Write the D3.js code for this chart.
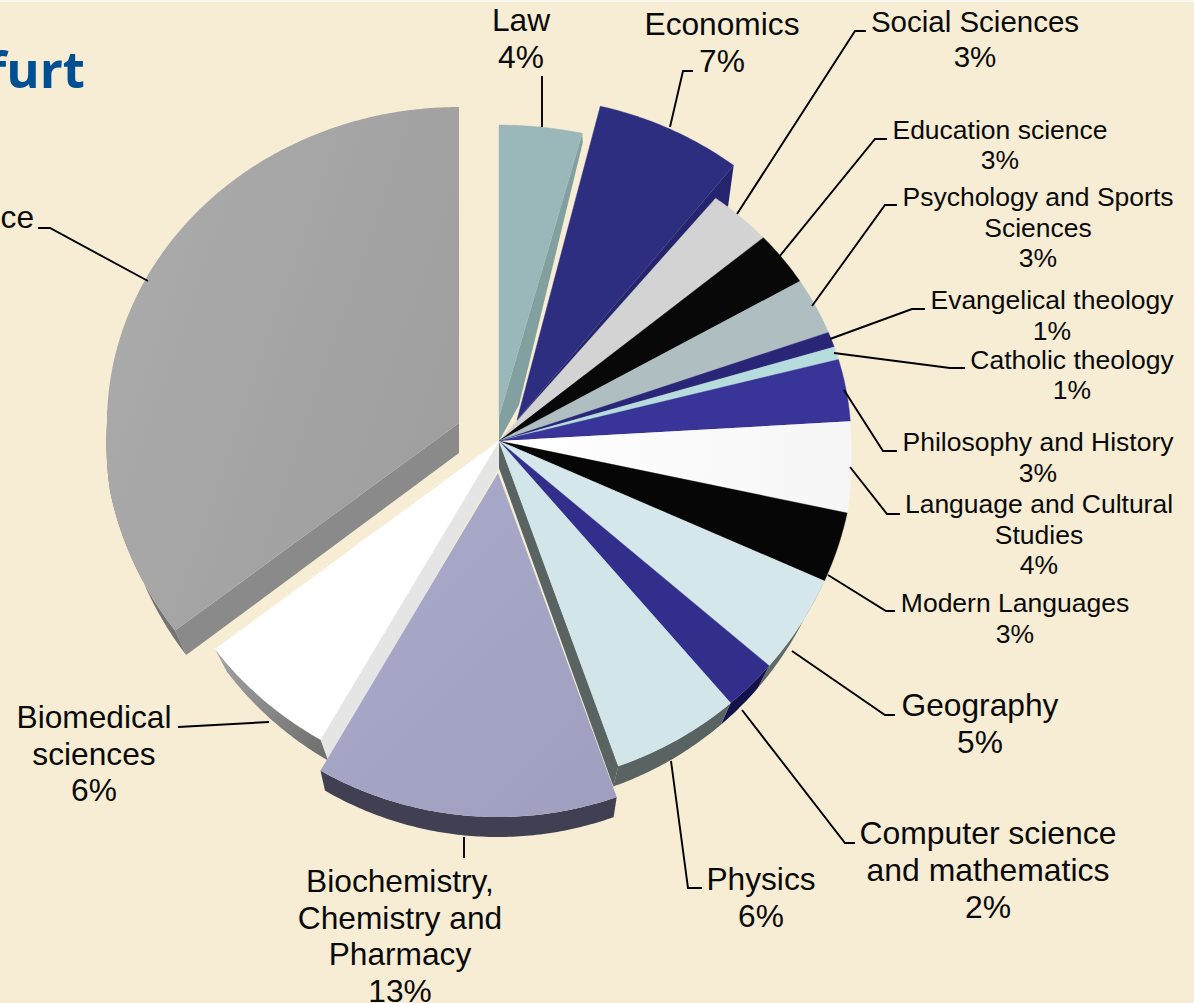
<!DOCTYPE html>
<html><head><meta charset="utf-8"><script src="https://d3js.org/d3.v7.min.js"></script>
<style>html,body{margin:0;padding:0;background:#f6edd4}svg{display:block}text{font-family:"Liberation Sans",Arial,sans-serif;fill:#0a0a0a}</style>
</head><body><div id="c"></div><script>
// ---- data (percent of the pie) ----
const categories=["Law","Economics","Social Sciences","Education science","Psychology and Sports Sciences","Evangelical theology","Catholic theology","Philosophy and History","Language and Cultural Studies","Modern Languages","Geography","Computer science and mathematics","Physics","Biochemistry, Chemistry and Pharmacy","Biomedical sciences","ce"];
const values=[3.8,6.75,2.97,2.8,2.94,0.8,0.67,3.25,4.36,3.3,4.64,2.44,5.83,13.8,6.33,35.3];
const percentLabels=["4%","7%","3%","3%","3%","1%","1%","3%","4%","3%","5%","2%","6%","13%","6%",""];
// ---- colours ----
const topColors=["#9ab7ba","#2e2e80","#d3d3d3","#080808","#afbec0","#292678","#b6dcde","#383498","url(#gLang)","#060606","#d5e7ea","#322f8c","#d2e5e8","url(#gChem)","#ffffff","url(#gBig)"];
const wallColors=[null,null,null,null,null,null,null,null,null,null,"#5f6a69","#14124a","#596362","#413f52","url(#gMed)","#757575"];
const radialColors=["#82a0a0","#25256f",null,null,null,null,null,null,null,null,null,null,"#596362",null,"#e5e5e5","#8a8a8a"];
// ---- layout ----
const W=1194,H=1003;
const base={ax:499,ay:441,rx:352,ryT:308,ryB:345,d:27,brx:341,bryT:308,bryB:338,radial:null,grow:4};
const geom=categories.map(()=>({...base}));
Object.assign(geom[0],{ay:417,ryT:292,d:24,brx:354,bryT:307,radial:"end",wallMid:[519,405]});
Object.assign(geom[1],{ax:517,ay:420,ryT:323,d:35,brx:343,bryT:316,radial:"end"});
Object.assign(geom[12],{radial:"end"});
Object.assign(geom[13],{ax:498,ay:473,ryB:344,d:20,brx:345,bryB:344,grow:2});
Object.assign(geom[14],{radial:"start"});
Object.assign(geom[15],{ax:459,ay:423,ryT:316,ryB:344,d:30,brx:342,bryB:335,radial:"start"});
const labelLayout=[
 {x:521,y:31,s:31.7,g:37,l:["Law"]},
 {x:722,y:35,s:31.7,g:37,l:["Economics"]},
 {x:975,y:32,s:29.5,g:35,l:["Social Sciences"]},
 {x:1000,y:139,s:26.5,g:30,l:["Education science"]},
 {x:1038,y:206,s:26.5,g:30.5,l:["Psychology and Sports","Sciences"]},
 {x:1052,y:309,s:26.5,g:31,l:["Evangelical theology"]},
 {x:1072,y:369,s:26.5,g:30,l:["Catholic theology"]},
 {x:1038,y:451,s:26.5,g:31,l:["Philosophy and History"]},
 {x:1039,y:513,s:26.5,g:30.5,l:["Language and Cultural","Studies"]},
 {x:1015,y:612,s:26.5,g:31,l:["Modern Languages"]},
 {x:980,y:716,s:31.7,g:37,l:["Geography"]},
 {x:988,y:844,s:31.9,g:37,l:["Computer science","and mathematics"]},
 {x:761,y:890,s:31.7,g:37,l:["Physics"]},
 {x:400,y:892,s:31.7,g:36.7,l:["Biochemistry,","Chemistry and","Pharmacy"]},
 {x:94,y:728,s:31.7,g:36.5,l:["Biomedical","sciences"]},
 {x:34,y:228,s:31.7,g:37,l:["ce"],anchor:"end"}
];
const leaders=[[[542,127],[542,76]],[[670,127],[683,71],[693,71]],[[737,214],[855,31],[866,31]],[[779,257],[875,139],[887,139]],[[812,306],[885,205],[897,205]],[[830,339],[912,309],[925,309]],[[834,353],[950,368],[965,368]],[[844,390],[883,451],[897,451]],[[850,467],[887,514],[900,514]],[[828,575],[886,611],[895,611]],[[792,651],[885,715],[895,715]],[[742,710],[845,843],[855,843]],[[671,761],[688,888],[702,888]],[[464,837],[464,858]],[[269,722],[178,727]],[[148,281],[50,228],[38,228]]];

const svg=d3.select("#c").append("svg").attr("width",W).attr("height",H);
svg.append("rect").attr("width",W).attr("height",H).attr("fill","#f6edd4");
svg.append("rect").attr("width",W).attr("height",2).attr("fill","#fbf8ef");
const defs=svg.append("defs");
function grad(id,x1,y1,x2,y2,a,b){const g=defs.append("linearGradient").attr("id",id).attr("gradientUnits","userSpaceOnUse").attr("x1",x1).attr("y1",y1).attr("x2",x2).attr("y2",y2);g.append("stop").attr("offset",0).attr("stop-color",a);g.append("stop").attr("offset",1).attr("stop-color",b);}
grad("gLang",500,440,850,470,"#ffffff","#f6f6f6");
grad("gChem",330,500,620,800,"#a9a9ca","#9f9fbf");
grad("gBig",110,300,460,420,"#aaaaaa","#9f9f9f");
grad("gMed",220,660,330,760,"#a0a0a0","#6c6c6c");

const arcs=d3.pie().sort(null).value(d=>d).startAngle(0).endAngle(2*Math.PI)(values);
const topPt=(g,t)=>{const c=Math.cos(t),rx=g.rx+(c<0?g.grow*Math.min(1,-c/0.2):0);return [g.ax+rx*Math.sin(t),g.ay-(c>0?g.ryT:g.ryB)*c];};
const botPt=(g,t)=>[g.ax+g.brx*Math.sin(t),g.ay+g.d-(Math.cos(t)>0?g.bryT:g.bryB)*Math.cos(t)];
const samples=(a)=>{const n=Math.max(2,Math.ceil((a.endAngle-a.startAngle)/0.01));return d3.range(n+1).map(i=>a.startAngle+(a.endAngle-a.startAngle)*i/n);};
const line=d3.line().curve(d3.curveLinear);

const wallG=svg.append("g"),topG=svg.append("g");
// radial cut faces
arcs.forEach((a,i)=>{const g=geom[i];if(!g.radial||!radialColors[i])return;const t=g.radial==="end"?a.endAngle:a.startAngle;
 const pts=[[g.ax,g.ay],topPt(g,t),botPt(g,t)];if(g.wallMid)pts.push(g.wallMid);pts.push([g.ax,g.ay+g.d]);
 wallG.append("path").attr("d",line(pts)+"Z").attr("fill",radialColors[i]);});
// outer rim
arcs.forEach((a,i)=>{if(!wallColors[i])return;const g=geom[i];const ts=samples(a).filter(t=>Math.cos(t)<0.05);
 wallG.append("path").attr("d",line(ts.map(t=>topPt(g,t)).concat(ts.slice().reverse().map(t=>botPt(g,t))))+"Z").attr("fill",wallColors[i]);});
// top faces
arcs.forEach((a,i)=>{const g=geom[i];
 topG.append("path").attr("d",line([[g.ax,g.ay]].concat(samples(a).map(t=>topPt(g,t))))+"Z").attr("fill",topColors[i]).attr("stroke",topColors[i].startsWith("url")?"none":topColors[i]).attr("stroke-width",0.4);});
// leader lines
svg.append("g").selectAll("path").data(leaders).join("path").attr("d",d=>line(d)).attr("fill","none").attr("stroke","#000").attr("stroke-width",1.9);
// labels
categories.forEach((c,i)=>{const L=labelLayout[i];const rows=percentLabels[i]?L.l.concat(percentLabels[i]):L.l;
 const t=svg.append("text").attr("text-anchor",L.anchor||"middle").attr("font-size",L.s);
 rows.forEach((r,k)=>t.append("tspan").attr("x",L.x).attr("y",L.y+k*L.g).text(r));});
svg.append("text").attr("x",85).attr("y",88).attr("text-anchor","end").attr("font-size",51).attr("font-weight",700).style("font-family","'Open Sans',sans-serif").style("fill","#004f93").text("furt");
</script></body></html>
